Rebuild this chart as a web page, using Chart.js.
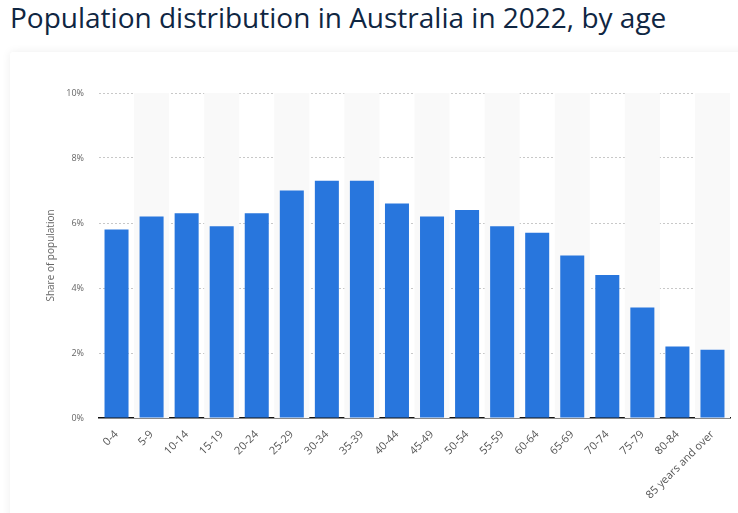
<!DOCTYPE html>
<html>
<head>
<meta charset="utf-8">
<script src="https://cdn.jsdelivr.net/npm/chart.js@4"></script>
<style>
  body { margin: 0; background: #fff; width: 738px; height: 513px; overflow: hidden; position: relative; font-family: "Open Sans", sans-serif; }
  h1 { position: absolute; left: 10px; top: -2px; margin: 0; font-size: 28px; font-weight: 400; color: #0f2642; }
  .card { position: absolute; left: 10px; top: 52px; width: 740px; height: 470px; background: #fff; box-shadow: 0 0 10px rgba(0,0,0,0.07); border-radius: 3px; }
  canvas { position: absolute; left: 0; top: 0; }
</style>
</head>
<body>
<h1>Population distribution in Australia in 2022, by age</h1>
<div class="card"><canvas id="ageChart" width="728" height="461"></canvas></div>
<script>
// age groups
const ageGroups = ['0-4', '5-9', '10-14', '15-19', '20-24', '25-29', '30-34', '35-39', '40-44',
  '45-49', '50-54', '55-59', '60-64', '65-69', '70-74', '75-79', '80-84', '85 years and over'];
// share of population, percent
const shareValues = [5.8, 6.2, 6.3, 5.9, 6.3, 7.0, 7.3, 7.3, 6.6, 6.2, 6.4, 5.9, 5.7, 5.0, 4.4, 3.4, 2.2, 2.1];
const yTicks = [0, 2, 4, 6, 8, 10];

// light stripes behind every other category
const stripes = {
  id: 'stripes',
  beforeDatasetsDraw(chart) {
    const {ctx, chartArea, scales} = chart;
    const x = scales.x;
    const w = x.width / ageGroups.length;
    ctx.save();
    ctx.fillStyle = '#f9f9f9';
    ageGroups.forEach((g, i) => {
      if (i % 2 === 1) {
        const c = x.getPixelForValue(i);
        ctx.fillRect(c - w / 2, chartArea.top, w, chartArea.bottom - chartArea.top);
      }
    });
    ctx.restore();
  }
};

new Chart(document.getElementById('ageChart'), {
  type: 'bar',
  data: {
    labels: ageGroups,
    datasets: [{
      data: shareValues,
      backgroundColor: '#2876dd',
      categoryPercentage: 1,
      barPercentage: 0.685
    }]
  },
  options: {
    responsive: false,
    animation: false,
    layout: { padding: { top: 41, left: 35, right: 8, bottom: 0 } },
    plugins: { legend: { display: false }, tooltip: { enabled: false } },
    scales: {
      x: {
        grid: { display: false, drawTicks: false },
        border: { display: true, color: '#111', width: 1.5 },
        ticks: {
          minRotation: 45, maxRotation: 45, autoSkip: false, padding: 10,
          color: '#555', font: { family: 'Open Sans', size: 11 }
        },
        afterFit(scale) { scale.height = 95; }
      },
      y: {
        min: 0, max: 10,
        afterBuildTicks(scale) { scale.ticks = yTicks.map(v => ({ value: v })); },
        grid: {
          color: (c) => c.tick && c.tick.value === 0 ? 'rgba(0,0,0,0)' : '#c8c8c8',
          drawTicks: false, lineWidth: 1
        },
        border: { display: false, dash: [2, 2] },
        ticks: {
          padding: 15, color: '#666', font: { family: 'Open Sans', size: 9 },
          callback: (v) => v + '%'
        },
        title: {
          display: true, text: 'Share of population', color: '#666',
          font: { family: 'Open Sans', size: 10 }, padding: 0
        },
        afterFit(scale) { scale.width = 54; }
      }
    }
  },
  plugins: [stripes]
});
</script>
</body>
</html>
